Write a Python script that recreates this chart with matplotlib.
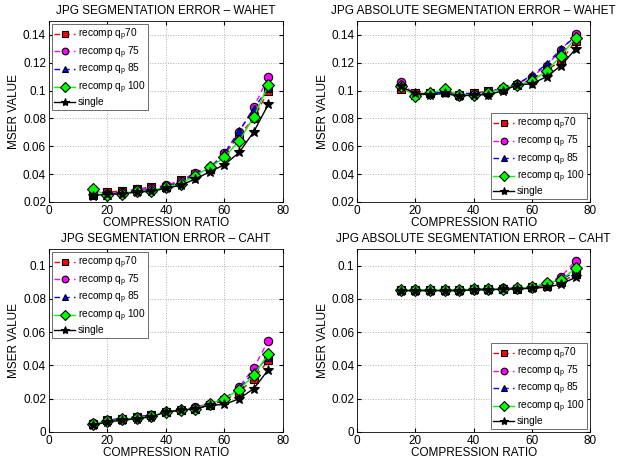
import numpy as np
import matplotlib.pyplot as plt

plt.rcParams['font.family'] = ['Liberation Sans', 'DejaVu Sans']
plt.rcParams['mathtext.fontset'] = 'custom'
plt.rcParams['mathtext.rm'] = 'Liberation Sans'

ratio = [15, 20, 25, 30, 35, 40, 45, 50, 55, 60, 65, 70, 75]

labels = [r'recomp q$_\mathregular{p}$70', r'recomp q$_\mathregular{p}$ 75',
          r'recomp q$_\mathregular{p}$ 85', r'recomp q$_\mathregular{p}$ 100', 'single']

# WAHET segmentation error
wahet_r70 = [0.025, 0.027, 0.028, 0.029, 0.031, 0.031, 0.036, 0.040, 0.044, 0.054, 0.068, 0.080, 0.100]
wahet_r75 = [0.029, 0.026, 0.027, 0.029, 0.030, 0.032, 0.035, 0.041, 0.045, 0.055, 0.070, 0.088, 0.110]
wahet_r85 = [0.026, 0.025, 0.027, 0.028, 0.029, 0.031, 0.034, 0.040, 0.044, 0.055, 0.071, 0.087, 0.102]
wahet_r100 = [0.029, 0.025, 0.026, 0.028, 0.028, 0.031, 0.033, 0.039, 0.045, 0.052, 0.064, 0.081, 0.104]
wahet_single = [0.0245, 0.0257, 0.0257, 0.0272, 0.0276, 0.0298, 0.032, 0.0365, 0.0417, 0.0468, 0.0556, 0.0704, 0.0903]

# WAHET absolute segmentation error
wahet_abs_r70 = [0.101, 0.098, 0.098, 0.099, 0.097, 0.098, 0.100, 0.101, 0.104, 0.108, 0.115, 0.121, 0.136]
wahet_abs_r75 = [0.106, 0.097, 0.098, 0.099, 0.097, 0.097, 0.099, 0.102, 0.105, 0.110, 0.118, 0.129, 0.141]
wahet_abs_r85 = [0.104, 0.097, 0.098, 0.099, 0.098, 0.098, 0.099, 0.102, 0.105, 0.111, 0.119, 0.130, 0.139]
wahet_abs_r100 = [0.103, 0.096, 0.098, 0.101, 0.097, 0.097, 0.098, 0.102, 0.104, 0.107, 0.114, 0.125, 0.138]
wahet_abs_single = [0.103, 0.098, 0.097, 0.098, 0.096, 0.097, 0.097, 0.100, 0.104, 0.105, 0.110, 0.118, 0.130]

# CAHT segmentation error
caht_r70 = [0.005, 0.007, 0.008, 0.009, 0.010, 0.012, 0.013, 0.014, 0.016, 0.019, 0.024, 0.032, 0.043]
caht_r75 = [0.0055, 0.007, 0.008, 0.009, 0.010, 0.012, 0.013, 0.015, 0.017, 0.020, 0.027, 0.0385, 0.055]
caht_r85 = [0.005, 0.007, 0.008, 0.009, 0.010, 0.012, 0.013, 0.014, 0.016, 0.020, 0.026, 0.036, 0.045]
caht_r100 = [0.005, 0.0065, 0.0075, 0.0085, 0.0095, 0.012, 0.013, 0.014, 0.017, 0.020, 0.0255, 0.034, 0.047]
caht_single = [0.004, 0.006, 0.007, 0.008, 0.009, 0.012, 0.013, 0.014, 0.016, 0.0165, 0.020, 0.026, 0.0375]

# CAHT absolute segmentation error
caht_abs_r70 = [0.0855, 0.0855, 0.0855, 0.0855, 0.0855, 0.086, 0.086, 0.086, 0.086, 0.087, 0.088, 0.090, 0.095]
caht_abs_r75 = [0.0855, 0.0855, 0.0855, 0.0855, 0.0855, 0.086, 0.086, 0.0865, 0.0865, 0.087, 0.0895, 0.0935, 0.103]
caht_abs_r85 = [0.0855, 0.0855, 0.0855, 0.0855, 0.0855, 0.086, 0.086, 0.086, 0.0865, 0.087, 0.089, 0.092, 0.096]
caht_abs_r100 = [0.0855, 0.0855, 0.0855, 0.0855, 0.0855, 0.086, 0.086, 0.086, 0.0865, 0.087, 0.0895, 0.0915, 0.0985]
caht_abs_single = [0.085, 0.085, 0.085, 0.085, 0.085, 0.0855, 0.0855, 0.086, 0.086, 0.0865, 0.087, 0.089, 0.093]

styles = [
    dict(color='red', ls=(0, (4, 3)), marker='s', mfc='red'),
    dict(color='magenta', ls=(0, (4, 3)), marker='o', mfc='magenta'),
    dict(color='blue', ls=(0, (4, 3)), marker='^', mfc='blue'),
    dict(color='lime', ls='-', marker='D', mfc='lime'),
    dict(color='black', ls='-', marker='*', mfc='black'),
]

panels = [
    ('JPG SEGMENTATION ERROR \u2013 WAHET', [wahet_r70, wahet_r75, wahet_r85, wahet_r100, wahet_single],
     (0.02, 0.15), [0.02, 0.04, 0.06, 0.08, 0.1, 0.12, 0.14], 'upper left'),
    ('JPG ABSOLUTE SEGMENTATION ERROR \u2013 WAHET', [wahet_abs_r70, wahet_abs_r75, wahet_abs_r85, wahet_abs_r100, wahet_abs_single],
     (0.02, 0.15), [0.02, 0.04, 0.06, 0.08, 0.1, 0.12, 0.14], 'lower right'),
    ('JPG SEGMENTATION ERROR \u2013 CAHT', [caht_r70, caht_r75, caht_r85, caht_r100, caht_single],
     (0, 0.11), [0, 0.02, 0.04, 0.06, 0.08, 0.1], 'upper left'),
    ('JPG ABSOLUTE SEGMENTATION ERROR \u2013 CAHT', [caht_abs_r70, caht_abs_r75, caht_abs_r85, caht_abs_r100, caht_abs_single],
     (0, 0.11), [0, 0.02, 0.04, 0.06, 0.08, 0.1], 'lower right'),
]

positions = [
    [0.079, 0.559, 0.379, 0.395],
    [0.578, 0.559, 0.377, 0.395],
    [0.079, 0.057, 0.379, 0.399],
    [0.578, 0.057, 0.377, 0.399],
]

fig = plt.figure(figsize=(6.18, 4.58), dpi=100)

for pos, (title, series, ylim, yticks, loc) in zip(positions, panels):
    ax = fig.add_axes(pos)
    for vals, st, lab in zip(series, styles, labels):
        ax.plot(ratio, vals, color=st['color'], ls=st['ls'], marker=st['marker'],
                mfc=st['mfc'], mec='black', mew=0.8,
                ms=7.5 if st['marker'] == '*' else 6, lw=1.0, label=lab)
    ax.set_xlim(0, 80)
    ax.set_ylim(*ylim)
    ax.set_xticks([0, 20, 40, 60, 80])
    ax.set_yticks(yticks)
    ax.set_yticklabels(['%g' % t for t in yticks])
    ax.tick_params(direction='in', labelsize=8.5, length=3, top=True, right=True, pad=2)
    ax.grid(True, ls=':', color='#b0b0b0', lw=0.7)
    ax.set_title(title, fontsize=8.5, pad=5)
    ax.set_xlabel('COMPRESSION RATIO', fontsize=8.5, labelpad=0)
    ax.set_ylabel('MSER VALUE', fontsize=8.5, labelpad=2)
    for s in ax.spines.values():
        s.set_linewidth(0.6)
    leg = ax.legend(loc=loc, fontsize=7.3, fancybox=False, framealpha=1, numpoints=1,
                    markerscale=0.8, edgecolor='#555555', handlelength=2.0,
                    borderpad=0.25, labelspacing=0.12, handletextpad=0.3,
                    borderaxespad=0.3)
    leg.get_frame().set_linewidth(0.6)

fig.savefig('out.png', dpi=100)
